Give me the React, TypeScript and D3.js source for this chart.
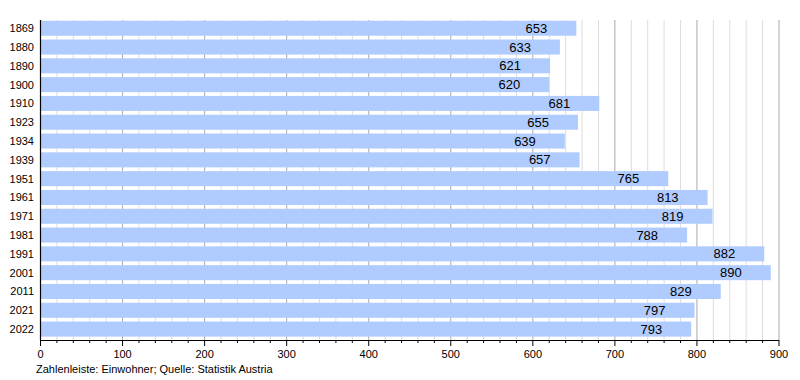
import React from "react";
import * as d3 from "d3";

const years = ["1869","1880","1890","1900","1910","1923","1934","1939","1951","1961","1971","1981","1991","2001","2011","2021","2022"];
const values = [653,633,621,620,681,655,639,657,765,813,819,788,882,890,829,797,793];
const majorTicks = [0,100,200,300,400,500,600,700,800,900];
const caption = "Zahlenleiste: Einwohner; Quelle: Statistik Austria";

export default function App() {
  const W = 800, H = 380;
  const left = 40.5, right = 779, top = 20, bottom = 340;
  const x = d3.scaleLinear().domain([0, 900]).range([left, right]);
  const y = d3.scaleBand().domain(years).range([20.7, 336.6]).paddingInner(0.2).paddingOuter(0);
  const minor = d3.range(0, 901, 20);
  const font = "'Liberation Sans', Arial, sans-serif";
  return (
    <svg width={W} height={H} style={{ position: "absolute", left: 0, top: 0, background: "#fff" }} fontFamily={font}>
      {minor.map(v => (
        <line key={"g" + v} x1={x(v)} x2={x(v)} y1={top} y2={bottom}
          stroke={v % 100 === 0 ? "#aaaaaa" : "#dddddd"} strokeWidth={1} />
      ))}
      {years.map((yr, i) => (
        <rect key={yr} x={x(0)} y={y(yr)!} width={x(values[i]) - x(0)} height={y.bandwidth()} fill="#b0ccff" />
      ))}
      {years.map((yr, i) => (
        <text key={"v" + yr} x={x(values[i]) - 29} y={y(yr)! + y.bandwidth() / 2 + 4.5} textAnchor="end" fontSize={13} fill="#000">{values[i]}</text>
      ))}
      {years.map(yr => (
        <text key={"l" + yr} x={34} y={y(yr)! + y.bandwidth() / 2 + 4} textAnchor="end" fontSize={11} fill="#000">{yr}</text>
      ))}
      <line x1={x(0)} x2={x(0)} y1={top} y2={bottom} stroke="#000" strokeWidth={1.2} />
      <line x1={x(0)} x2={right} y1={bottom + 0.5} y2={bottom + 0.5} stroke="#000" strokeWidth={1.2} />
      {minor.map(v => (
        <line key={"t" + v} x1={x(v)} x2={x(v)} y1={bottom} y2={bottom + (v % 100 === 0 ? 6 : 3)} stroke="#000" strokeWidth={1} />
      ))}
      {majorTicks.map(v => (
        <text key={"tl" + v} x={x(v)} y={358} textAnchor="middle" fontSize={11} fill="#000">{v}</text>
      ))}
      <text x={36} y={373} fontSize={11} fill="#000">{caption}</text>
    </svg>
  );
}
